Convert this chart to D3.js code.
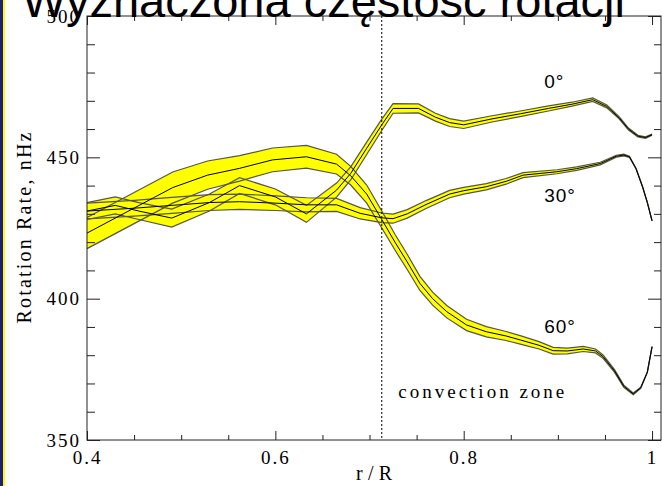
<!DOCTYPE html>
<html><head><meta charset="utf-8">
<script src="https://cdn.jsdelivr.net/npm/d3@7"></script>
<style>html,body{margin:0;padding:0;background:#fff;} svg{display:block;}</style>
</head><body>
<script>
// ---- data ----
const title = "Wyznaczona częstość rotacji";
const xLabel = "r/R";
const yLabel = "Rotation Rate, nHz";
const zoneLabel = "convection zone";
const tachocline = 0.713;

const r0 = [0.40,0.43,0.455,0.49,0.53,0.562,0.60,0.633,0.665,0.68,0.697,0.713,0.725,0.752,0.77,0.785,0.80,0.83,0.86,0.89,0.915,0.937,0.952,0.965,0.975,0.985,0.993,1.0];
const rate0 = [431,433,431,428.5,434,440,436,430,438.4,444.3,453.2,461.5,467.3,467.3,464.2,462.3,461.5,463.6,465.4,467.3,468.8,470.4,468,464,460,457.5,457,458];
const err0 = [3,3,3,3.2,3,2.8,2.8,3,2.5,2.3,2.2,2,1.7,1.6,1.4,1.4,1.3,1.1,1,0.9,0.7,0.6,0.5,0.4,0.35,0.3,0.25,0.2];

const r30 = [0.40,0.45,0.49,0.53,0.562,0.60,0.633,0.665,0.69,0.713,0.725,0.74,0.76,0.785,0.80,0.824,0.845,0.863,0.899,0.92,0.945,0.962,0.97,0.976,0.983,0.99,0.995,1.0];
const rate30 = [431,432,433,434,434.3,433.8,433.2,433.2,430.2,428.6,428.3,430,433.3,437,438.2,439.6,441.5,443.7,444.9,446,447.8,450.4,450.8,450.2,446,439.5,434,427.5];
const err30 = [2.8,2.8,2.8,2.8,2.7,2.6,2.5,2.3,2,1.7,1.6,1.5,1.4,1.3,1.2,1.1,1,0.9,0.7,0.6,0.45,0.35,0.3,0.2,0.15,0.1,0.05,0];

const r60 = [0.40,0.491,0.528,0.562,0.597,0.633,0.665,0.68,0.697,0.713,0.727,0.74,0.7535,0.767,0.782,0.803,0.824,0.845,0.86,0.88,0.895,0.91,0.927,0.94,0.948,0.96,0.97,0.98,0.988,0.995,1.0];
const rate60 = [423.2,439.3,443.7,446.1,449.1,450.2,447.6,443.5,437,428,420,413,405.4,400,395.4,390.7,388.3,386.8,385.4,383.5,381.6,381.5,382.2,381.5,379.5,374.5,369,366.3,368.5,374,383];
const err60 = [5.5,5.5,5,4.5,4.2,4,3.5,3.3,3.2,3,2.8,2.7,2.5,2.3,2.2,2,1.8,1.6,1.5,1.3,1.2,1,0.9,0.7,0.6,0.5,0.4,0.3,0.2,0.1,0];

const latLabels = ["0°","30°","60°"];
const latLabelR = [0.8855,0.8855,0.8855];
const latLabelV = [474.5,434.2,387.9];

const xTicksMajor = [0.4,0.6,0.8,1.0];
const xTickLabels = ["0.4","0.6","0.8","1"];
const xTicksMinor = [0.45,0.5,0.55,0.65,0.7,0.75,0.85,0.9,0.95];
const yTicksMajor = [350,400,450,500];
const yTickLabels = ["350","400","450","500"];
const yTicksMinor = [360,370,380,390,410,420,430,440,460,470,480,490];

// ---- drawing ----
const W = 662, H = 486;
const svg = d3.select("body").append("svg").attr("width", W).attr("height", H)
  .style("background", "#fff");

svg.append("rect").attr("x",0).attr("y",0).attr("width",3).attr("height",H).attr("fill","#1f1f7a");
svg.append("rect").attr("x",3).attr("y",0).attr("width",2).attr("height",H).attr("fill","#ffff00");

const x = d3.scaleLinear().domain([0.4, 1.0095]).range([87, 661]);
const y = d3.scaleLinear().domain([350, 500]).range([440, 16]);

const serif = "'Liberation Serif', 'Times New Roman', serif";

const series = [
  {r: r60, v: rate60, e: err60},
  {r: r30, v: rate30, e: err30},
  {r: r0,  v: rate0,  e: err0}
].map(s => s.r.map((r,i) => ({r, v: s.v[i], e: s.e[i]})));

const area = d3.area().x(d => x(d.r)).y0(d => y(d.v - d.e)).y1(d => y(d.v + d.e));
const lineU = d3.line().x(d => x(d.r)).y(d => y(d.v + d.e));
const lineL = d3.line().x(d => x(d.r)).y(d => y(d.v - d.e));
const lineC = d3.line().x(d => x(d.r)).y(d => y(d.v));

const g = svg.append("g");
series.forEach(s => g.append("path").attr("d", area(s)).attr("fill", "#ffff00").attr("stroke", "none"));
series.forEach(s => {
  g.append("path").attr("d", lineU(s)).attr("fill","none").attr("stroke","#555548").attr("stroke-width",1.2);
  g.append("path").attr("d", lineL(s)).attr("fill","none").attr("stroke","#555548").attr("stroke-width",1.2);
});
series.forEach(s => g.append("path").attr("d", lineC(s)).attr("fill","none").attr("stroke","#000").attr("stroke-width",1));

// tachocline
svg.append("line").attr("x1", x(tachocline)).attr("x2", x(tachocline))
  .attr("y1", y(500)).attr("y2", y(350))
  .attr("stroke","#000").attr("stroke-width",1).attr("stroke-dasharray","2,2");

// axes (ticks inward)
function axisG(axis, tx, ty) {
  const a = svg.append("g").attr("transform", `translate(${tx},${ty})`).call(axis);
  a.select(".domain").remove();
  a.selectAll("line").attr("stroke","#222");
  return a;
}
const xb = axisG(d3.axisBottom(x).tickValues(xTicksMajor).tickSizeInner(-9).tickSizeOuter(0).tickPadding(11)
  .tickFormat((d,i) => xTickLabels[i]), 0, 440);
axisG(d3.axisBottom(x).tickValues(xTicksMinor).tickSizeInner(-5).tickSizeOuter(0).tickFormat(""), 0, 440);
axisG(d3.axisTop(x).tickValues(xTicksMajor).tickSizeInner(-9).tickSizeOuter(0).tickFormat(""), 0, 16);
axisG(d3.axisTop(x).tickValues(xTicksMinor).tickSizeInner(-5).tickSizeOuter(0).tickFormat(""), 0, 16);
const yl = axisG(d3.axisLeft(y).tickValues(yTicksMajor).tickSizeInner(-13).tickSizeOuter(0).tickPadding(8)
  .tickFormat((d,i) => yTickLabels[i]), 87, 0);
axisG(d3.axisLeft(y).tickValues(yTicksMinor).tickSizeInner(-8).tickSizeOuter(0).tickFormat(""), 87, 0);
axisG(d3.axisRight(y).tickValues(yTicksMajor).tickSizeInner(-13).tickSizeOuter(0).tickFormat(""), 661, 0);
axisG(d3.axisRight(y).tickValues(yTicksMinor).tickSizeInner(-7).tickSizeOuter(0).tickFormat(""), 661, 0);

[xb, yl].forEach(a => a.selectAll("text").attr("font-family", serif).attr("font-size", 19)
  .attr("fill","#000").style("letter-spacing","2px"));
yl.selectAll("text").attr("dx", 2);

// frame
svg.append("rect").attr("x", 87).attr("y", 16).attr("width", 574).attr("height", 424)
  .attr("fill","none").attr("stroke","#222").attr("stroke-width",1);

// labels
svg.append("text").attr("x", 374).attr("y", 480).attr("text-anchor","middle")
  .attr("font-family", serif).attr("font-size", 20).attr("textLength", 36).attr("lengthAdjust","spacing").text(xLabel);
svg.append("text").attr("transform","translate(31,228) rotate(-90)").attr("text-anchor","middle")
  .attr("font-family", serif).attr("font-size", 20).attr("textLength", 191).attr("lengthAdjust","spacing").text(yLabel);
svg.append("text").attr("x", x(0.7305)).attr("y", y(364.9))
  .attr("font-family", serif).attr("font-size", 19).attr("textLength", 166).attr("lengthAdjust","spacing").text(zoneLabel);
latLabels.forEach((t,i) => svg.append("text").attr("x", x(latLabelR[i])).attr("y", y(latLabelV[i]))
  .attr("font-family", "'Liberation Sans', Arial, sans-serif").attr("font-size", 19).style("letter-spacing","1px").text(t));

// title
svg.append("text").attr("x", 22).attr("y", 17)
  .attr("font-family", "'Liberation Sans', Arial, sans-serif").attr("font-size", 47).attr("fill","#000").text(title);
</script>
</body></html>
